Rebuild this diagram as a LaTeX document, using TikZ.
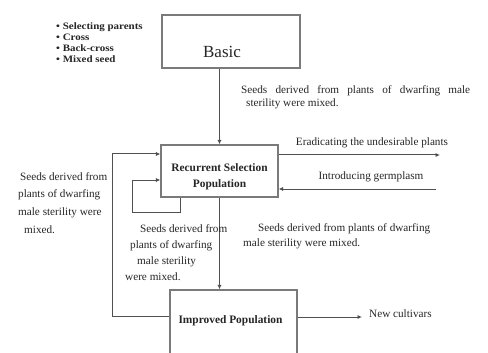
\documentclass[tikz,border=0pt]{standalone}
\usepackage{fontspec}
\setmainfont{Liberation Serif}
\usetikzlibrary{arrows.meta}
\definecolor{boxgray}{HTML}{7A7A7A}
\definecolor{linegray}{HTML}{505050}
\definecolor{textgray}{HTML}{262626}
\begin{document}
\begin{tikzpicture}[x=1pt,y=-1pt,
  box/.style={draw=boxgray, line width=1.2pt, inner sep=0pt, fill=white},
  conn/.style={draw=linegray, line width=1pt},
  arr/.style={conn, -{Latex[length=4.5pt,width=4.2pt]}},
  txt/.style={font=\fontsize{11.2}{13}\selectfont, text=textgray, inner sep=0pt},
  boldtxt/.style={font=\bfseries\fontsize{11.4}{16.5}\selectfont, text=textgray, inner sep=0pt, align=center},
  bullets/.style={font=\bfseries\fontsize{9.8}{11.3}\selectfont\addfontfeatures{FakeStretch=1.12}, text=textgray, inner sep=0pt, align=left}
]
\clip (0,0) rectangle (488,353);
\fill[white] (0,0) rectangle (488,353);

% boxes
\node[box, minimum width=138pt, minimum height=53pt] (basic) at (231,41.5) {};
\node[font=\fontsize{17}{20}\selectfont, text=textgray, inner sep=0pt] (basiclbl) at (222,52) {Basic};
\node[box, minimum width=117pt, minimum height=52pt] (rs) at (219.5,171) {};
\node[boldtxt] (rslbl) at (219.5,177) {Recurrent Selection\\Population};
\node[box, minimum width=127pt, minimum height=66pt] (imp) at (233.5,323) {};
\node[boldtxt] (implbl) at (230.5,321) {Improved Population};

% bullet list
\node[bullets, anchor=north west] (list) at (56,22)
  {\textbullet\ Selecting parents\\ \textbullet\ Cross\\ \textbullet\ Back-cross\\ \textbullet\ Mixed seed};

% connectors
\draw[arr] (basic.south -| rs.north) -- (rs.north);
\draw[arr] (rs.south) -- (rs.south |- imp.north);
\coordinate (eradEnd) at (440,155);
\draw[arr] (rs.east |- eradEnd) -- (eradEnd);
\coordinate (introStart) at (436,189);
\draw[arr] (introStart) -- (rs.east |- introStart);
\coordinate (outerBot) at (112,316);
\coordinate (outerTop) at (112,154);
\draw[arr] (imp.west |- outerBot) -- (outerBot) -- (outerTop) -- (rs.west |- outerTop);
\coordinate (innerA) at (180,212);
\coordinate (innerB) at (132,212);
\coordinate (innerC) at (132,180);
\draw[arr] (rs.south -| innerA) -- (innerA) -- (innerB) -- (innerC) -- (rs.west |- innerC);
\coordinate (cultEnd) at (362,317);
\draw[arr] (imp.east |- cultEnd) -- (cultEnd);

% labels
\node[txt, anchor=west] (cult) at (369,314) {New cultivars};
\node[txt] (erad) at (372,143) {Eradicating the undesirable plants};
\node[txt] (intro) at (371,177) {Introducing germplasm};
\node[txt, anchor=north west, align=left] (seedsTop) at (241,85)
  {\makebox[229pt][s]{Seeds derived from plants of dwarfing male}\\ \hspace*{5pt}sterility were mixed.};
\node[txt, anchor=north west, align=left, font=\fontsize{11.2}{17.7}\selectfont] (seedsLeft) at (18,172)
  {\hspace*{2pt}Seeds derived from\\ plants of dwarfing\\ male sterility were\\ \hspace*{6pt}mixed.};
\node[txt, anchor=north west, align=left, font=\fontsize{11.2}{16.3}\selectfont] (seedsMid) at (125,224)
  {\hspace*{15pt}Seeds derived from\\ \hspace*{5pt}plants of dwarfing\\ \hspace*{12pt}male sterility\\ were mixed.};
\node[txt, anchor=north west, align=left, font=\fontsize{11.2}{15}\selectfont] (seedsRight) at (243,223)
  {\hspace*{15pt}Seeds derived from plants of dwarfing\\ male sterility were mixed.};
\end{tikzpicture}
\end{document}
